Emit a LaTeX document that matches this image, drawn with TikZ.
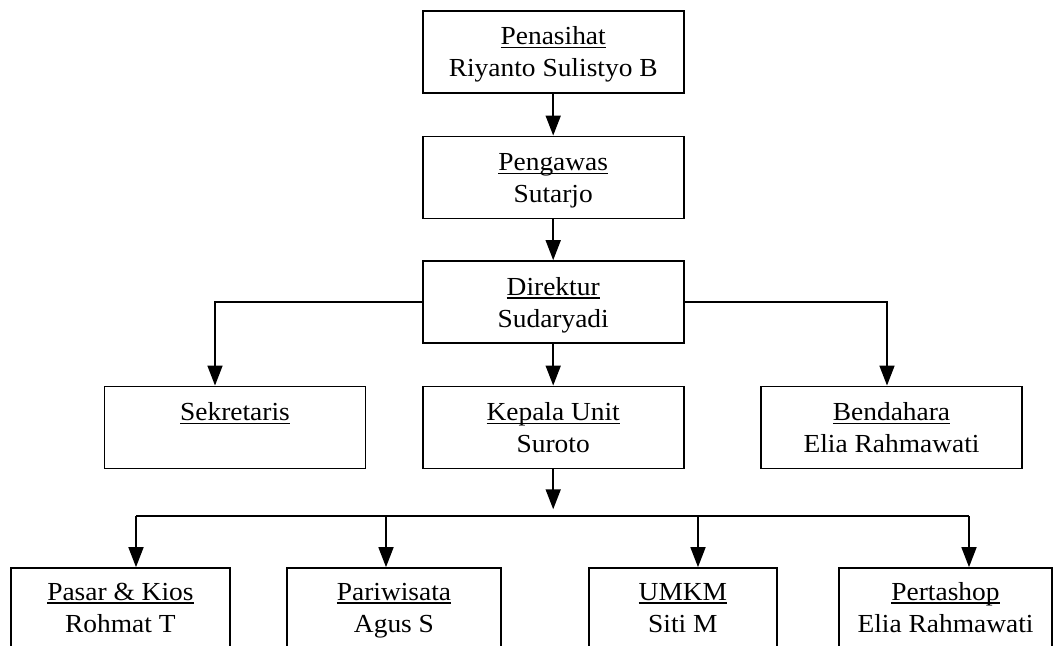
\documentclass[tikz,border=0pt]{standalone}
\usepackage{graphicx}
\usepackage{fontspec}
\setmainfont{Liberation Serif}
\usetikzlibrary{arrows.meta}
\newcommand\mytx[1]{\scalebox{1.055}[1]{#1}}
\newcommand\myul[1]{\setbox0\hbox{\mytx{#1}}\rlap{\rule[-3.5pt]{\wd0}{1.2pt}}\box0}
\newcommand\topst{\rule{0pt}{26pt}}
\newcommand\lowst{\rule{0pt}{22pt}}
\newcommand\botst{\rule[-8pt]{0pt}{8pt}}
\begin{document}
\begin{tikzpicture}[x=1pt,y=-1pt,
  box/.style={draw, line width=1.7pt, inner sep=0pt, align=center,
    font=\fontsize{26}{32}\selectfont, minimum height=82pt},
  conn/.style={line width=1.7pt},
  arr/.style={conn, -{Triangle[width=15pt,length=20pt]}}]
\clip (0,0) rectangle (1054,645);
\fill[white] (0,0) rectangle (1054,645);
% top chain
\node[box, minimum width=261pt] (pen) at (553.2,51.9) {\topst\myul{Penasihat}\\\mytx{Riyanto Sulistyo B}\botst};
\node[box, minimum width=261pt] (peng) at (553.2,177.4) {\topst\myul{Pengawas}\\\mytx{Sutarjo}\botst};
\node[box, minimum width=261pt] (dir) at (553.2,302) {\topst\myul{Direktur}\\\mytx{Sudaryadi}\botst};
% second row
\node[box, minimum width=261pt] (sek) at (235,427.4) {\topst\myul{Sekretaris}\\\botst};
\node[box, minimum width=261pt] (kep) at (553.2,427.4) {\topst\myul{Kepala Unit}\\\mytx{Suroto}\botst};
\node[box, minimum width=261pt] (ben) at (891.5,427.4) {\topst\myul{Bendahara}\\\mytx{Elia Rahmawati}\botst};
% bottom row
\node[box, minimum width=218.7pt] (pas) at (120.4,609) {\lowst\myul{Pasar \& Kios}\\\mytx{Rohmat T}\botst};
\node[box, minimum width=214pt] (par) at (394,609) {\lowst\myul{Pariwisata}\\\mytx{Agus S}\botst};
\node[box, minimum width=187.7pt] (umk) at (682.9,609) {\lowst\myul{UMKM}\\\mytx{Siti M}\botst};
\node[box, minimum width=213pt] (per) at (945.5,609) {\lowst\myul{Pertashop}\\\mytx{Elia Rahmawati}\botst};
% connectors top
\draw[arr] (pen) -- (peng);
\draw[arr] (peng) -- (dir);
\draw[arr] (dir) -- (kep);
\coordinate (sk) at ([xshift=-20pt]sek.north);
\coordinate (bk) at ([xshift=-4.5pt]ben.north);
\draw[arr] (dir.west) -| (sk);
\draw[arr] (dir.east) -| (bk);
% bus to bottom row
\coordinate (kend) at ([yshift=-40pt]kep.south);
\draw[arr] (kep.south) -- (kend);
\coordinate (bus) at (553.2,516);
\coordinate (pk) at ([xshift=15.6pt]pas.north);
\coordinate (rk) at ([xshift=-8pt]par.north);
\coordinate (uk) at ([xshift=15.1pt]umk.north);
\coordinate (tk) at ([xshift=23.5pt]per.north);
\draw[conn] (pk |- bus) -- (tk |- bus);
\draw[arr] (pk |- bus) -- (pk);
\draw[arr] (rk |- bus) -- (rk);
\draw[arr] (uk |- bus) -- (uk);
\draw[arr] (tk |- bus) -- (tk);
\end{tikzpicture}
\end{document}
